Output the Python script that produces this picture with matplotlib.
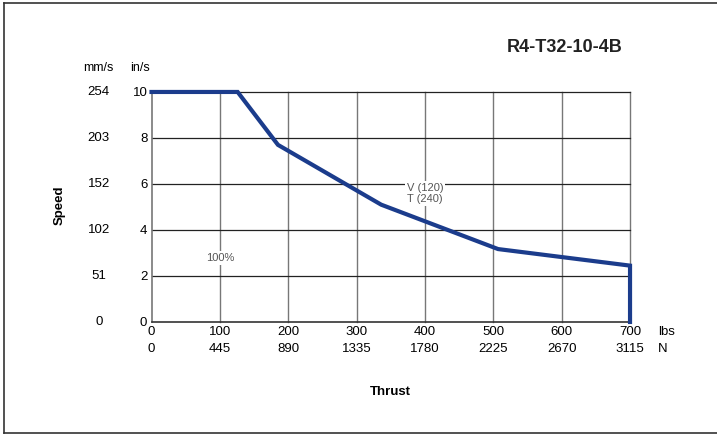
import matplotlib.pyplot as plt
from matplotlib.lines import Line2D

plt.rcParams["font.family"] = ["Liberation Sans", "DejaVu Sans"]

# curve (lbs, in/s)
thrust_lbs = [0, 126, 185, 336, 507, 700, 700]
speed_ins = [10, 10, 7.7, 5.1, 3.17, 2.45, 0]

x_ticks = [0, 100, 200, 300, 400, 500, 600, 700]
x_labels_n = ["0", "445", "890", "1335", "1780", "2225", "2670", "3115"]
y_ticks = [0, 2, 4, 6, 8, 10]
y_labels_mms = ["0", "51", "102", "152", "203", "254"]

LINE_COLOR = "#1b3c8c"

fig = plt.figure(figsize=(7.17, 4.34), dpi=100)
ax = fig.add_axes([0.2113, 0.2581, 0.6674, 0.53])

for x in x_ticks[1:]:
    ax.axvline(x, color="#777777", lw=1.0, zorder=1, clip_on=False)
for y in y_ticks[1:]:
    ax.axhline(y, color="#222222", lw=0.9, zorder=1, clip_on=False)

ax.plot(thrust_lbs, speed_ins, color=LINE_COLOR, lw=3.0, zorder=3,
        solid_joinstyle="miter", clip_on=False)

ax.set_xlim(0, 700)
ax.set_ylim(0, 10)
ax.set_xticks(x_ticks)
ax.set_xticklabels([str(v) for v in x_ticks], fontsize=9.5)
ax.set_yticks(y_ticks)
ax.set_yticklabels([str(v) for v in y_ticks], fontsize=9.5)
ax.tick_params(length=0, pad=3)
for s in ["top", "right"]:
    ax.spines[s].set_visible(False)
ax.spines["left"].set_color("#777777")
ax.spines["bottom"].set_color("#333333")
ax.spines["left"].set_linewidth(1.2)
ax.spines["bottom"].set_linewidth(1.2)

# second rows of labels
for x, lab in zip(x_ticks, x_labels_n):
    ax.annotate(lab, xy=(x, 0), xytext=(0, -15), textcoords="offset points",
                ha="center", va="top", fontsize=9.5)
for y, lab in zip(y_ticks, y_labels_mms):
    ax.annotate(lab, xy=(0, y), xytext=(-38, 0), textcoords="offset points",
                ha="center", va="center", fontsize=9.5)

ax.annotate("lbs", xy=(700, 0), xytext=(20, -3), textcoords="offset points",
            ha="left", va="top", fontsize=9.5)
ax.annotate("N", xy=(700, 0), xytext=(20, -15), textcoords="offset points",
            ha="left", va="top", fontsize=9.5)

fig.text(98 / 717, 1 - 68 / 434, "mm/s", ha="center", va="center", fontsize=9)
fig.text(140 / 717, 1 - 68 / 434, "in/s", ha="center", va="center", fontsize=9)

ax.text(100, 2.78, "100%", ha="center", va="center", fontsize=8, color="#555555",
        bbox=dict(facecolor="white", edgecolor="none", pad=1.5), zorder=2)
ax.text(400, 5.57, "V (120)\nT (240)", ha="center", va="center", fontsize=8,
        color="#555555", linespacing=1.1,
        bbox=dict(facecolor="white", edgecolor="none", pad=1.5), zorder=2)

fig.text(60 / 717, 1 - 205 / 434, "Speed", rotation=90, ha="center", va="center",
         fontsize=9.5, fontweight="bold")
fig.text(390 / 717, 1 - 392 / 434, "Thrust", ha="center", va="center",
         fontsize=9.5, fontweight="bold")
fig.text(565 / 717, 1 - 47 / 434, "R4-T32-10-4B", ha="center", va="center",
         fontsize=13, fontweight="bold", color="#222222")

# frame around figure
bx0, by0, by1 = 3.5 / 717, 1 - 432.5 / 434, 1 - 2.5 / 434
for xs, ys in [([bx0, bx0], [by0, by1]), ([bx0, 1.0], [by1, by1]), ([bx0, 1.0], [by0, by0])]:
    fig.add_artist(Line2D(xs, ys, transform=fig.transFigure, color="#333333", lw=1.2))

fig.savefig("out.png", dpi=100)
